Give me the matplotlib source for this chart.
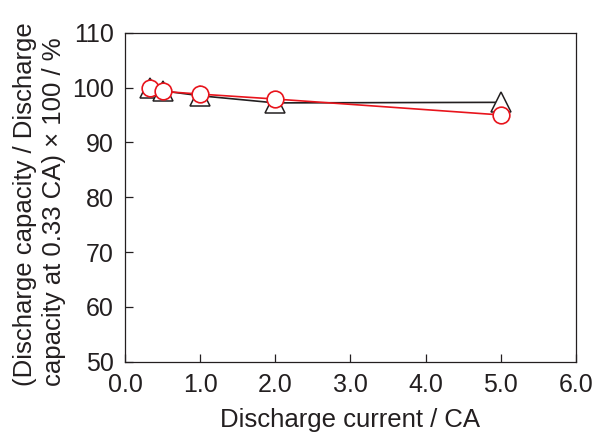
import matplotlib
matplotlib.use("Agg")
import matplotlib.pyplot as plt

# Discharge rate characteristics
current_ca = [0.33, 0.5, 1.0, 2.0, 5.0]
ratio_black = [100.0, 99.4, 98.5, 97.2, 97.3]
ratio_red = [100.0, 99.3, 98.8, 97.9, 95.0]

x_ticks = [0.0, 1.0, 2.0, 3.0, 4.0, 5.0, 6.0]
y_ticks = [50, 60, 70, 80, 90, 100, 110]

plt.rcParams["font.family"] = ["Liberation Sans", "DejaVu Sans"]

W, H = 597, 432
fig = plt.figure(figsize=(W / 100, H / 100), dpi=100)
ax = fig.add_axes([0.2094, 0.1627, 0.7554, 0.7616])

ink = "#231f20"
red = "#e8141c"

ax.plot(current_ca, ratio_black, color=ink, lw=1.2, marker="^", ms=14,
        mfc="white", mec=ink, mew=1.1, zorder=3)
ax.plot(current_ca, ratio_red, color=red, lw=1.2, marker="o", ms=12,
        mfc="white", mec=red, mew=1.2, zorder=4)

ax.set_xlim(0, 6)
ax.set_ylim(50, 110)
ax.set_xticks(x_ticks)
ax.set_xticklabels([f"{v:.1f}" for v in x_ticks])
ax.set_yticks(y_ticks)
ax.set_yticklabels([str(v) for v in y_ticks])

ax.tick_params(direction="in", length=5.5, width=0.9, color=ink,
               labelsize=18, labelcolor=ink, pad=8)
for s in ax.spines.values():
    s.set_color(ink)
    s.set_linewidth(0.9)

# axis titles
fig.text(349.5 / W, 1 - 426.5 / H, "Discharge current / CA", fontsize=18.5,
         color=ink, ha="center", va="baseline")

ylabel_lines = ["(Discharge capacity / Discharge",
                "capacity at 0.33 CA) \u00d7 100 / %"]
for line, base_x in zip(ylabel_lines, [32, 61]):
    fig.text(base_x / W, 1 - 386 / H, line, rotation=90, rotation_mode="anchor",
             fontsize=18.5, color=ink, ha="left", va="baseline")

fig.savefig("out.png", dpi=100)
